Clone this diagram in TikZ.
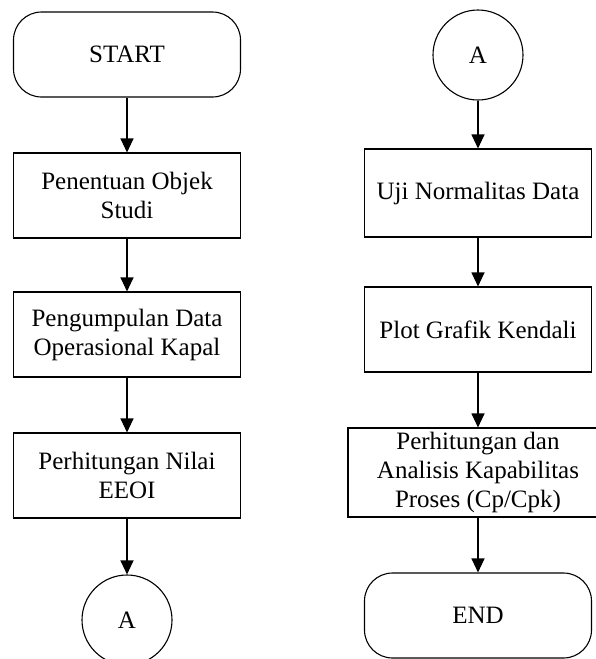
\documentclass[tikz,border=0pt]{standalone}
\usepackage{fontspec}
\setmainfont{Liberation Serif}
\usetikzlibrary{arrows.meta}
\tikzset{
terminal/.style={draw, rounded corners=28pt, minimum width=227pt, minimum height=85pt, align=center}, % start and end
process/.style={draw, minimum width=227pt, minimum height=85pt, align=center, inner sep=0pt}, % one step
connector/.style={draw, circle, minimum size=90pt, inner sep=0pt}, % page connector
flow/.style={-{Triangle[width=13pt,length=14pt]}}, % arrows between steps
}

\begin{document}
\begin{tikzpicture}[x=1pt, y=-1pt, line width=1.1pt,
    every node/.style={font=\fontsize{25}{29}\selectfont}]
        \useasboundingbox (0,0) rectangle (595,659);
        % left column
        \node[terminal] at (127,54.5) (start) {START};
        \node[process] at (127,195.5) (objek) {Penentuan Objek\\Studi};
        \node[process] at (127,334.5) (data) {Pengumpulan Data\\Operasional Kapal};
        \node[process] at (127,475.5) (eeoi) {Perhitungan Nilai\\EEOI};
        \node[connector] at (127,620) (aout) {A};
        % right column
        \node[connector] at (478,55) (ain) {A};
        \node[process, minimum height=88pt] at (478,193) (uji) {Uji Normalitas Data};
        \node[process] at (478,329.5) (plot) {Plot Grafik Kendali};
        \node[process, minimum width=260pt, minimum height=89pt] at (478,472.5) (cpk) {Perhitungan dan\\Analisis Kapabilitas\\Proses (Cp/Cpk)};
        \node[terminal] at (478,615.5) (end) {END};
        \draw[flow] (start) -- (objek);
        \draw[flow] (objek) -- (data);
        \draw[flow] (data) -- (eeoi);
        \draw[flow] (eeoi) -- (aout);
        \draw[flow] (ain) -- (uji);
        \draw[flow] (uji) -- (plot);
        \draw[flow] (plot) -- (cpk);
        \draw[flow] (cpk) -- (end);
    \end{tikzpicture}
\end{document}
